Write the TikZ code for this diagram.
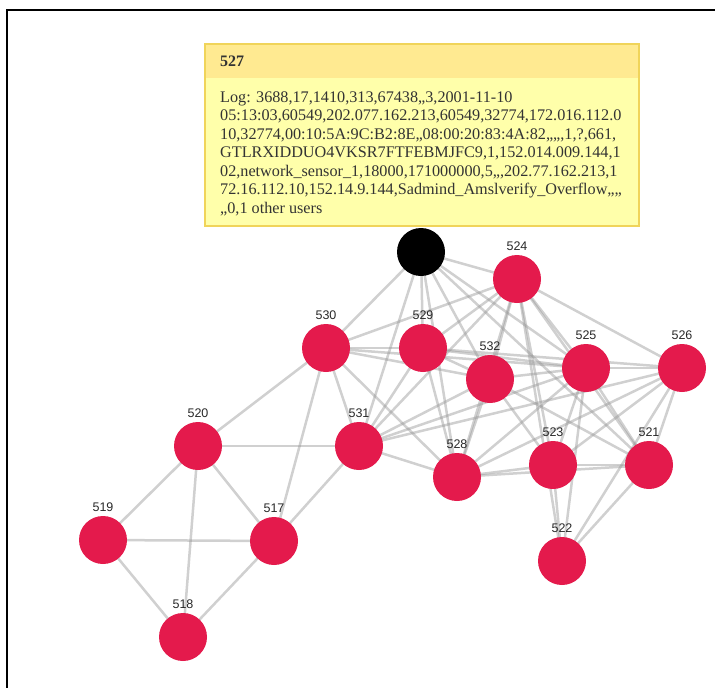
\documentclass[tikz,border=0pt]{standalone}
\usepackage{fontspec}
\setmainfont{Liberation Serif}
\newfontfamily\lblfont{Liberation Sans}
\usetikzlibrary{backgrounds}
\definecolor{nodered}{RGB}{228,26,76}
\definecolor{edgegray}{RGB}{150,150,150}
\definecolor{tiphead}{RGB}{255,234,145}
\definecolor{tipbody}{RGB}{255,255,170}
\definecolor{tipborder}{RGB}{240,212,90}
\definecolor{lblgray}{RGB}{40,40,40}
\tikzset{
  gnode/.style={circle,fill=nodered,minimum size=48pt,inner sep=0pt},
  blacknode/.style={circle,fill=black,minimum size=48pt,inner sep=0pt},
  glabel/.style={font=\lblfont\fontsize{12.5}{12.5}\selectfont,text=lblgray,inner sep=0pt,label distance=3.5pt},
  edge/.style={draw=edgegray,line width=2.5pt,opacity=0.45},
}
\begin{document}
\begin{tikzpicture}[x=1pt,y=-1pt]
\useasboundingbox (0,0) rectangle (715,688);
% frame
\draw[line width=1.2pt] (7,688) coordinate (fbl) -- (7,10) coordinate (ftl) -- (715,10) coordinate (ftr);
% tooltip
\fill[tipbody] (205,44) rectangle (639,226);
\fill[tiphead] (205,44) rectangle (639,78);
\draw[tipborder,line width=1.8pt] (205,44) rectangle (639,226);
\node[anchor=base west,inner sep=0pt,font=\bfseries\fontsize{16}{18}\selectfont,text=black!80] (tiptitle) at (220,66) {527};
\node[anchor=base west,inner sep=0pt,align=left,font=\fontsize{16.2}{18.5}\selectfont,text=black!80] (tiptext) at (220,213) {Log: 3688,17,1410,313,67438,,3,2001-11-10\\
05:13:03,60549,202.077.162.213,60549,32774,172.016.112.0\\
10,32774,00:10:5A:9C:B2:8E,,08:00:20:83:4A:82,,,,,1,?,661,\\
GTLRXIDDUO4VKSR7FTFEBMJFC9,1,152.014.009.144,1\\
02,network\_sensor\_1,18000,171000000,5,,,202.77.162.213,1\\
72.16.112.10,152.14.9.144,Sadmind\_Amslverify\_Overflow,,,,\\
,,0,1 other users};
% nodes
\node[blacknode] (n527) at (421,252) {};
\node[gnode,label={[glabel]above:524}] (n524) at (517,279) {};
\node[gnode,label={[glabel]above:530}] (n530) at (326,348) {};
\node[gnode,label={[glabel]above:529}] (n529) at (423,348) {};
\node[gnode,label={[glabel]above:532}] (n532) at (490,379) {};
\node[gnode,label={[glabel]above:525}] (n525) at (586,368) {};
\node[gnode,label={[glabel]above:526}] (n526) at (682,368) {};
\node[gnode,label={[glabel]above:520}] (n520) at (198,446) {};
\node[gnode,label={[glabel]above:531}] (n531) at (359,446) {};
\node[gnode,label={[glabel]above:528}] (n528) at (457,477) {};
\node[gnode,label={[glabel]above:523}] (n523) at (553,465) {};
\node[gnode,label={[glabel]above:521}] (n521) at (649,465) {};
\node[gnode,label={[glabel]above:519}] (n519) at (103,540) {};
\node[gnode,label={[glabel]above:517}] (n517) at (274,541) {};
\node[gnode,label={[glabel]above:522}] (n522) at (562,561) {};
\node[gnode,label={[glabel]above:518}] (n518) at (183,637) {};
% edges
\begin{scope}[on background layer]
\foreach \a/\b in {520/519,520/517,520/518,519/517,519/518,517/518,520/531,520/530,517/531,517/530,530/531,
  527/530,527/531,527/529,527/528,527/532,527/524,527/521,527/525,
  524/529,524/530,524/532,524/531,524/528,524/523,524/522,524/525,524/521,524/526,
  530/529,530/532,530/525,530/528,
  529/532,529/525,529/526,529/531,529/528,
  531/532,531/525,531/526,531/528,
  532/528,532/525,532/523,532/521,
  525/526,525/523,525/522,525/521,525/528,
  526/523,526/521,526/522,526/528,
  528/523,528/521,
  523/521,523/522,521/522}
  \draw[edge] (n\a.center) -- (n\b.center);
\end{scope}
\end{tikzpicture}
\end{document}
